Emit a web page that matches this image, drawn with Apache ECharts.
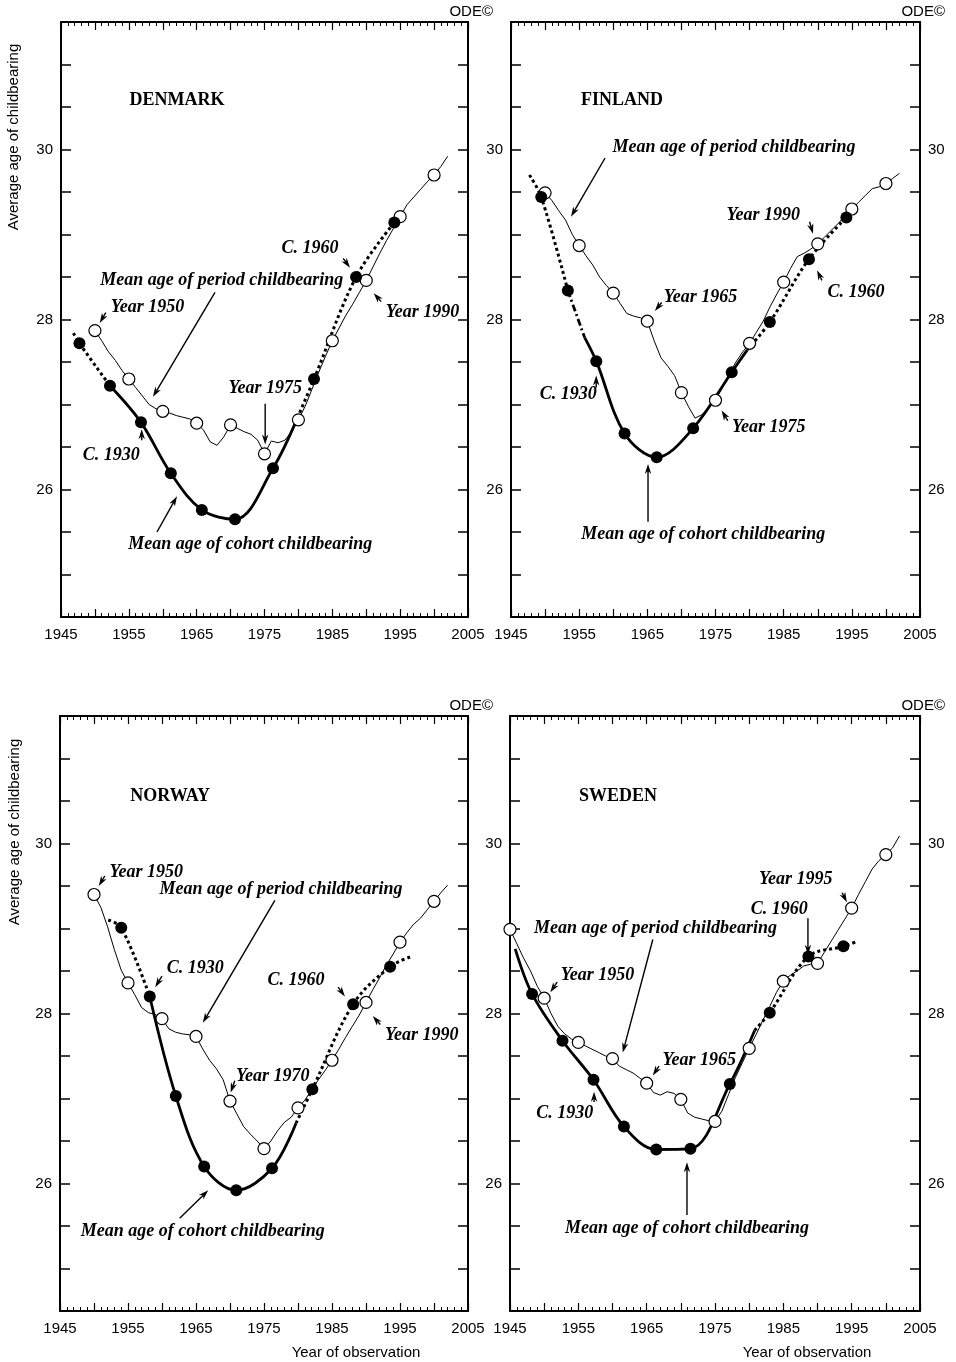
<!DOCTYPE html>
<html>
<head>
<meta charset="utf-8">
<script src="https://cdn.jsdelivr.net/npm/echarts@6/dist/echarts.min.js"></script>
<style>
  html, body { margin: 0; padding: 0; background: #fff; }
  #chart { width: 956px; height: 1362px; }
</style>
</head>
<body>
<div id="chart"></div>
<script>
// ---------- Data: mean age of childbearing ----------
// Period mean age, annual values starting at the given year of observation
const denmarkPeriodStart = 1950;
const denmarkPeriod = [27.87, 27.75, 27.62, 27.52, 27.40, 27.30, 27.20, 27.10, 27.00, 26.95,
  26.92, 26.90, 26.87, 26.85, 26.83, 26.78, 26.70, 26.56, 26.52, 26.62,
  26.76, 26.72, 26.68, 26.65, 26.58, 26.42, 26.57, 26.55, 26.58, 26.68,
  26.82, 26.98, 27.18, 27.38, 27.57, 27.75, 27.90, 28.05, 28.18, 28.32,
  28.46, 28.62, 28.78, 28.93, 29.07, 29.21, 29.35, 29.44, 29.53, 29.62,
  29.70, 29.80, 29.92];

const finlandPeriodStart = 1950;
const finlandPeriod = [29.49, 29.40, 29.28, 29.17, 29.00, 28.87, 28.75, 28.64, 28.50, 28.40,
  28.31, 28.19, 28.07, 28.04, 28.02, 27.98, 27.75, 27.55, 27.45, 27.34,
  27.14, 26.98, 26.84, 26.88, 26.96, 27.05, 27.20, 27.36, 27.50, 27.62,
  27.72, 27.85, 27.98, 28.15, 28.30, 28.44, 28.60, 28.74, 28.78, 28.83,
  28.89, 28.97, 29.05, 29.13, 29.22, 29.30, 29.38, 29.46, 29.54, 29.56,
  29.60, 29.66, 29.72];

const norwayPeriodStart = 1950;
const norwayPeriod = [29.40, 29.25, 29.02, 28.75, 28.51, 28.36, 28.22, 28.07, 28.01, 27.99,
  27.94, 27.82, 27.78, 27.76, 27.75, 27.73, 27.58, 27.45, 27.35, 27.22,
  26.97, 26.82, 26.67, 26.58, 26.50, 26.41, 26.50, 26.62, 26.72, 26.78,
  26.89, 26.98, 27.10, 27.22, 27.33, 27.45, 27.58, 27.72, 27.85, 27.98,
  28.13, 28.28, 28.42, 28.57, 28.70, 28.84, 28.95, 29.05, 29.12, 29.22,
  29.32, 29.42, 29.51];

const swedenPeriodStart = 1945;
const swedenPeriod = [28.99, 28.82, 28.65, 28.50, 28.32, 28.18, 28.00, 27.85, 27.76, 27.70,
  27.66, 27.62, 27.58, 27.54, 27.50, 27.47, 27.38, 27.34, 27.30, 27.24,
  27.18, 27.07, 27.04, 27.08, 27.06, 26.99, 26.83, 26.78, 26.76, 26.74,
  26.73, 26.85, 27.05, 27.25, 27.42, 27.59, 27.75, 27.92, 28.08, 28.25,
  28.38, 28.45, 28.50, 28.56, 28.58, 28.59, 28.72, 28.85, 28.98, 29.11,
  29.24, 29.40, 29.55, 29.70, 29.80, 29.87, 29.95, 30.09];

// Cohort mean age, by birth cohort (plotted at cohort year + mean age)
const denmarkCohorts = [1919, 1920, 1925, 1930, 1935, 1940, 1945, 1950, 1953, 1955, 1960, 1965];
const denmarkCohortAges = [27.84, 27.72, 27.22, 26.79, 26.19, 25.76, 25.65, 26.25, 26.84, 27.30, 28.50, 29.14];

const finlandCohorts = [1918, 1920, 1925, 1928, 1930, 1935, 1940, 1945, 1950, 1952, 1955, 1960, 1965];
const finlandCohortAges = [29.70, 29.44, 28.34, 27.79, 27.51, 26.66, 26.38, 26.72, 27.38, 27.64, 27.97, 28.71, 29.20];

const norwayCohorts = [1923, 1925, 1930, 1935, 1940, 1945, 1950, 1953, 1955, 1960, 1965, 1968];
const norwayCohortAges = [29.10, 29.01, 28.20, 27.03, 26.20, 25.92, 26.18, 26.71, 27.11, 28.11, 28.55, 28.67];

const swedenCohorts = [1917, 1920, 1925, 1930, 1935, 1940, 1945, 1950, 1953, 1955, 1960, 1965, 1967];
const swedenCohortAges = [28.76, 28.23, 27.68, 27.22, 26.67, 26.40, 26.41, 27.17, 27.80, 28.01, 28.67, 28.79, 28.85];

// Axis tick labels
const yearTickLabels = [1945, 1955, 1965, 1975, 1985, 1995, 2005];
const ageTickLabels = [26, 28, 30];

// ---------- Layout ----------
const FONT_SANS = '"Liberation Sans", Arial, sans-serif';
const FONT_SERIF = '"Liberation Serif", "Times New Roman", serif';

const lineStyles = {
  dot: { color: '#000', width: 3, type: [3, 3] },
  solid: { color: '#000', width: 2.8, type: 'solid' },
  dashdot: { color: '#000', width: 2.8, type: [7, 3, 2, 3] }
};

const panels = [
  {
    grid: { left: 61, top: 22, width: 407, height: 595 },
    rightLabels: false, yName: [14, 137], xName: null, ode: [493, 12],
    periodStart: denmarkPeriodStart, period: denmarkPeriod,
    cohorts: denmarkCohorts, ages: denmarkCohortAges,
    segments: [[1919, 1925, 'dot'], [1925, 1953, 'solid'], [1953, 1965, 'dot']],
    texts: [
      ['DENMARK', 1962.1, 30.58, true],
      ['C. 1960', 1981.7, 28.84],
      ['Mean age of period childbearing', 1968.7, 28.46],
      ['Year 1950', 1957.75, 28.14],
      ['Year 1990', 1998.3, 28.09],
      ['Year 1975', 1975.1, 27.19],
      ['C. 1930', 1952.4, 26.40],
      ['Mean age of cohort childbearing', 1972.9, 25.36]
    ],
    arrows: [
      [1986.6, 28.72, 1987.6, 28.61],
      [1967.7, 28.32, 1958.56, 27.09],
      [1951.6, 28.08, 1950.7, 27.96],
      [1992.2, 28.21, 1991.1, 28.31],
      [1975.1, 27.01, 1975.1, 26.53],
      [1956.9, 26.58, 1956.9, 26.71],
      [1959.15, 25.50, 1962.1, 25.92]
    ]
  },
  {
    grid: { left: 511, top: 22, width: 409, height: 595 },
    rightLabels: true, yName: null, xName: null, ode: [945, 12],
    periodStart: finlandPeriodStart, period: finlandPeriod,
    cohorts: finlandCohorts, ages: finlandCohortAges,
    segments: [[1918, 1925, 'dot'], [1925, 1928, 'dashdot'], [1928, 1952, 'solid'], [1952, 1965, 'dot']],
    texts: [
      ['FINLAND', 1961.3, 30.58, true],
      ['Mean age of period childbearing', 1977.7, 30.02],
      ['Year 1965', 1972.8, 28.26],
      ['Year 1990', 1982.0, 29.23],
      ['C. 1960', 1995.6, 28.32],
      ['C. 1930', 1953.4, 27.12],
      ['Year 1975', 1982.8, 26.73],
      ['Mean age of cohort childbearing', 1973.2, 25.47]
    ],
    arrows: [
      [1958.8, 29.90, 1953.8, 29.21],
      [1967.1, 28.20, 1966.1, 28.10],
      [1988.8, 29.15, 1989.3, 29.01],
      [1990.6, 28.46, 1989.9, 28.58],
      [1957.5, 27.20, 1957.5, 27.34],
      [1976.8, 26.81, 1975.9, 26.93],
      [1965.1, 25.62, 1965.1, 26.30]
    ]
  },
  {
    grid: { left: 60, top: 716, width: 408, height: 595 },
    rightLabels: false, yName: [15, 832], xName: [356, 1353], ode: [493, 706],
    periodStart: norwayPeriodStart, period: norwayPeriod,
    cohorts: norwayCohorts, ages: norwayCohortAges,
    segments: [[1923, 1930, 'dot'], [1930, 1953, 'solid'], [1953, 1968, 'dot']],
    texts: [
      ['NORWAY', 1961.2, 30.56, true],
      ['Year 1950', 1957.7, 29.66],
      ['Mean age of period childbearing', 1977.5, 29.46],
      ['C. 1930', 1964.9, 28.53],
      ['C. 1960', 1979.7, 28.39],
      ['Year 1990', 1998.2, 27.74],
      ['Year 1970', 1976.3, 27.26],
      ['Mean age of cohort childbearing', 1966.0, 25.44]
    ],
    arrows: [
      [1951.6, 29.62, 1950.7, 29.50],
      [1976.6, 29.33, 1966.0, 27.89],
      [1960.0, 28.44, 1959.0, 28.31],
      [1985.9, 28.31, 1986.9, 28.20],
      [1992.1, 27.87, 1991.0, 27.97],
      [1970.7, 27.21, 1970.1, 27.07],
      [1962.6, 25.59, 1966.8, 25.92]
    ]
  },
  {
    grid: { left: 510, top: 716, width: 410, height: 595 },
    rightLabels: true, yName: null, xName: [807, 1353], ode: [945, 706],
    periodStart: swedenPeriodStart, period: swedenPeriod,
    cohorts: swedenCohorts, ages: swedenCohortAges,
    segments: [[1917, 1953, 'solid'], [1953, 1967, 'dot']],
    texts: [
      ['SWEDEN', 1960.8, 30.56, true],
      ['Mean age of period childbearing', 1966.3, 29.00],
      ['Year 1950', 1957.8, 28.45],
      ['Year 1995', 1986.8, 29.58],
      ['C. 1960', 1984.4, 29.23],
      ['Year 1965', 1972.7, 27.45],
      ['C. 1930', 1953.0, 26.83],
      ['Mean age of cohort childbearing', 1970.9, 25.47]
    ],
    arrows: [
      [1965.9, 28.87, 1961.5, 27.54],
      [1951.9, 28.37, 1950.9, 28.25],
      [1993.6, 29.42, 1994.3, 29.31],
      [1988.6, 29.12, 1988.6, 28.69],
      [1966.8, 27.38, 1965.9, 27.27],
      [1957.3, 26.96, 1957.3, 27.08],
      [1970.9, 25.63, 1970.9, 26.25]
    ]
  }
];

// ---------- Axes ----------
function xAxisFor(gridIndex, position) {
  return {
    type: 'value', gridIndex, position, min: 1945, max: 2005, interval: 5,
    axisLine: { onZero: false, lineStyle: { color: '#000', width: 2 } },
    axisTick: { inside: true, length: 8, lineStyle: { color: '#000', width: 1.2 } },
    minorTick: { show: true, splitNumber: 5, length: 4, lineStyle: { color: '#000', width: 1 } },
    splitLine: { show: false }, minorSplitLine: { show: false },
    axisLabel: {
      show: position === 'bottom', margin: 10, color: '#000',
      fontFamily: FONT_SANS, fontSize: 15,
      formatter: v => (yearTickLabels.includes(v) ? String(v) : '')
    }
  };
}

function yAxisFor(gridIndex, position, showLabels) {
  return {
    type: 'value', gridIndex, position, min: 24.5, max: 31.5, interval: 0.5,
    axisLine: { onZero: false, lineStyle: { color: '#000', width: 2 } },
    axisTick: { inside: true, length: 10, lineStyle: { color: '#000', width: 1.5 } },
    splitLine: { show: false },
    axisLabel: {
      show: showLabels, margin: 8, color: '#000',
      fontFamily: FONT_SANS, fontSize: 15,
      formatter: v => (ageTickLabels.includes(v) ? String(v) : '')
    }
  };
}

// Arrow with a narrow filled head, drawn from data coordinates
function renderArrow(params, api) {
  const a = api.coord([api.value(0), api.value(1)]);
  const b = api.coord([api.value(2), api.value(3)]);
  const dx = b[0] - a[0], dy = b[1] - a[1];
  const len = Math.hypot(dx, dy) || 1;
  const ux = dx / len, uy = dy / len, nx = -uy, ny = ux;
  const L = 10, W = 3.2;
  const base = [b[0] - ux * L, b[1] - uy * L];
  const notch = [b[0] - ux * L * 0.7, b[1] - uy * L * 0.7];
  const children = [{
    type: 'polygon',
    shape: { points: [b, [base[0] + nx * W, base[1] + ny * W], notch, [base[0] - nx * W, base[1] - ny * W]] },
    style: { fill: '#000' }
  }];
  if (len > L * 0.7) {
    children.push({
      type: 'line',
      shape: { x1: a[0], y1: a[1], x2: notch[0], y2: notch[1] },
      style: { stroke: '#000', lineWidth: 1.4 }
    });
  }
  return { type: 'group', children };
}

const grids = [], xAxes = [], yAxes = [], series = [], graphics = [];

panels.forEach((p, i) => {
  grids.push(p.grid);
  xAxes.push(xAxisFor(i, 'bottom'), xAxisFor(i, 'top'));
  yAxes.push(yAxisFor(i, 'left', true), yAxisFor(i, 'right', p.rightLabels));
  const xi = 2 * i, yi = 2 * i;

  const periodPts = p.period.map((v, k) => [p.periodStart + k, v]);
  const cohortPts = p.cohorts.map((c, k) => ({ c, v: [c + p.ages[k], p.ages[k]] }));

  // Period mean age: thin annual line
  series.push({
    type: 'line', xAxisIndex: xi, yAxisIndex: yi, data: periodPts,
    symbol: 'none', showSymbol: false, silent: true, z: 2,
    lineStyle: { color: '#000', width: 1, opacity: 1 }
  });

  // Cohort mean age: thick (completed) and dotted (estimated) pieces
  p.segments.forEach(([lo, hi, kind]) => {
    series.push({
      type: 'line', xAxisIndex: xi, yAxisIndex: yi, smooth: 0.35,
      data: cohortPts.filter(q => q.c >= lo && q.c <= hi).map(q => q.v),
      symbol: 'none', showSymbol: false, silent: true, z: 3,
      lineStyle: Object.assign({ opacity: 1 }, lineStyles[kind])
    });
  });

  // Five-yearly period markers (open circles)
  series.push({
    type: 'scatter', xAxisIndex: xi, yAxisIndex: yi, silent: true, z: 4,
    data: periodPts.filter(d => d[0] % 5 === 0),
    symbol: 'circle', symbolSize: 12,
    itemStyle: { color: '#fff', borderColor: '#000', borderWidth: 1.2, opacity: 1 }
  });

  // Five-yearly cohort markers (filled dots)
  series.push({
    type: 'scatter', xAxisIndex: xi, yAxisIndex: yi, silent: true, z: 5,
    data: cohortPts.filter(q => q.c % 5 === 0).map(q => q.v),
    symbol: 'circle', symbolSize: 12,
    itemStyle: { color: '#000', borderColor: '#000', borderWidth: 0, opacity: 1 }
  });

  // Text annotations
  series.push({
    type: 'scatter', xAxisIndex: xi, yAxisIndex: yi, silent: true, z: 6,
    symbolSize: 1, itemStyle: { color: 'rgba(0,0,0,0)', opacity: 1 },
    data: p.texts.map(([text, x, y, isTitle]) => ({
      name: text, value: [x, y],
      label: {
        show: true, position: 'inside', formatter: '{b}', color: '#000', opacity: 1,
        textBorderWidth: 0,
        fontFamily: FONT_SERIF, fontSize: 18, fontWeight: 'bold',
        fontStyle: isTitle ? 'normal' : 'italic'
      }
    }))
  });

  // Pointer arrows
  series.push({
    type: 'custom', xAxisIndex: xi, yAxisIndex: yi, silent: true, z: 6,
    data: p.arrows, encode: { x: [0, 2], y: [1, 3] },
    renderItem: renderArrow
  });

  const textStyle = (text, x, y, align) => ({
    text, x, y, fill: '#000', font: '15px ' + FONT_SANS,
    textAlign: align, align, textVerticalAlign: 'middle', verticalAlign: 'middle'
  });
  graphics.push({ type: 'text', silent: true, style: textStyle('ODE©', p.ode[0], p.ode[1], 'right') });
  if (p.yName) {
    graphics.push({
      type: 'text', silent: true, x: p.yName[0], y: p.yName[1], rotation: Math.PI / 2,
      style: textStyle('Average age of childbearing', 0, 0, 'center')
    });
  }
  if (p.xName) {
    graphics.push({ type: 'text', silent: true, style: textStyle('Year of observation', p.xName[0], p.xName[1], 'center') });
  }
});

const chart = echarts.init(document.getElementById('chart'), null, { renderer: 'canvas' });
chart.setOption({
  animation: false,
  backgroundColor: '#fff',
  textStyle: { fontFamily: FONT_SANS },
  grid: grids,
  xAxis: xAxes,
  yAxis: yAxes,
  series,
  graphic: graphics
});
</script>
</body>
</html>
